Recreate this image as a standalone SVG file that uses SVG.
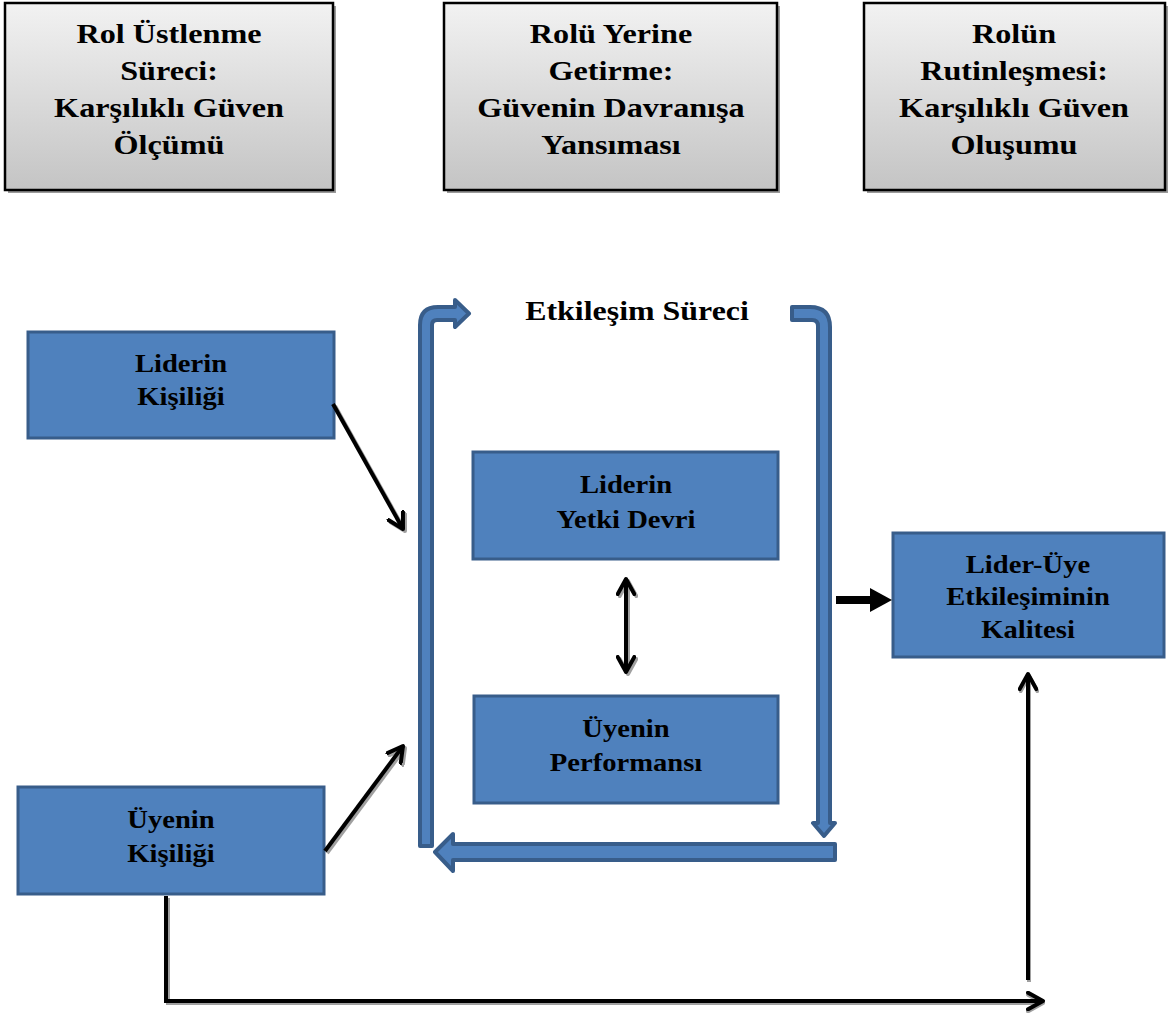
<svg xmlns="http://www.w3.org/2000/svg" width="1172" height="1019" viewBox="0 0 1172 1019">
<defs>
<linearGradient id="gray" x1="0" y1="0" x2="0" y2="1">
<stop offset="0" stop-color="#f2f2f2"/>
<stop offset="1" stop-color="#c4c4c4"/>
</linearGradient>
<marker id="open" viewBox="0 0 12 12" refX="10" refY="6" markerWidth="5" markerHeight="5" orient="auto-start-reverse" markerUnits="strokeWidth">
<path d="M1,1 L10,6 L1,11" fill="none" stroke="#000" stroke-width="2.4" stroke-linecap="round" stroke-linejoin="round"/>
</marker>
<marker id="openS" viewBox="0 0 12 12" refX="10" refY="6" markerWidth="5" markerHeight="5" orient="auto-start-reverse" markerUnits="strokeWidth">
<path d="M1,1 L10,6 L1,11" fill="none" stroke="#a0a0a0" stroke-width="2.4" stroke-linecap="round" stroke-linejoin="round"/>
</marker>
</defs>
<style>
.top{fill:url(#gray);stroke:#000;stroke-width:2.5}
.shadow{fill:#9a9a9a}
.blue{fill:#4f81bd;stroke:#385d8a;stroke-width:3}
.big{fill:#4f81bd;stroke:#385d8a;stroke-width:4;stroke-linejoin:round}
.t{font-family:"Liberation Serif","Times New Roman",serif;font-weight:bold;fill:#000;text-anchor:middle}
.tt{font-size:28px}
.tb{font-size:26px}
.ln{fill:none;stroke:#000;stroke-width:4}
.lns{fill:none;stroke:#a0a0a0;stroke-width:4}
</style>

<g id="top1">
<rect class="shadow" x="8" y="6" width="328" height="187"/>
<rect class="top" x="5" y="3" width="328" height="187"/>
<text class="t tt" transform="translate(169,43) scale(1.15,1)">Rol Üstlenme</text>
<text class="t tt" transform="translate(169,80) scale(1.15,1)">Süreci:</text>
<text class="t tt" transform="translate(169,117) scale(1.15,1)">Karşılıklı Güven</text>
<text class="t tt" transform="translate(169,154) scale(1.15,1)">Ölçümü</text>
</g>
<g id="top2">
<rect class="shadow" x="447" y="6" width="333" height="187"/>
<rect class="top" x="444" y="3" width="333" height="187"/>
<text class="t tt" transform="translate(611,43) scale(1.15,1)">Rolü Yerine</text>
<text class="t tt" transform="translate(611,80) scale(1.15,1)">Getirme:</text>
<text class="t tt" transform="translate(611,117) scale(1.15,1)">Güvenin Davranışa</text>
<text class="t tt" transform="translate(611,154) scale(1.15,1)">Yansıması</text>
</g>
<g id="top3">
<rect class="shadow" x="867" y="6" width="301" height="187"/>
<rect class="top" x="864" y="3" width="301" height="187"/>
<text class="t tt" transform="translate(1014,43) scale(1.15,1)">Rolün</text>
<text class="t tt" transform="translate(1014,80) scale(1.15,1)">Rutinleşmesi:</text>
<text class="t tt" transform="translate(1014,117) scale(1.15,1)">Karşılıklı Güven</text>
<text class="t tt" transform="translate(1014,154) scale(1.15,1)">Oluşumu</text>
</g>

<g id="process">
<path class="big" d="M420,846 L420,325 Q420,307 438,307 L455,307 L455,300 L469,313.5 L455,327 L455,320 L437,320 Q432,320 432,325 L432,846 Z"/>
<path class="big" d="M792,307 L810,307 Q830,307 830,327 L830,823 L835,823 L824,836 L813,823 L818,823 L818,326 Q818,320 812,320 L792,320 Z"/>
<path class="big" d="M835,844 L835,860 L453,860 L453,871 L435,852 L453,834 L453,844 Z"/>
<text class="t" font-size="28" transform="translate(637,320) scale(1.14,1)">Etkileşim Süreci</text>
</g>

<g id="liderin-kisiligi">
<rect class="blue" x="28" y="332" width="306" height="106"/>
<text class="t tb" transform="translate(181,372) scale(1.1,1)">Liderin</text>
<text class="t tb" transform="translate(181,405) scale(1.1,1)">Kişiliği</text>
</g>
<g id="yetki-devri">
<rect class="blue" x="473" y="452" width="305" height="107"/>
<text class="t tb" transform="translate(626,493) scale(1.1,1)">Liderin</text>
<text class="t tb" transform="translate(626,528) scale(1.1,1)">Yetki Devri</text>
</g>
<g id="performans">
<rect class="blue" x="474" y="696" width="304" height="107"/>
<text class="t tb" transform="translate(626,737) scale(1.1,1)">Üyenin</text>
<text class="t tb" transform="translate(626,771) scale(1.1,1)">Performansı</text>
</g>
<g id="lmx-kalite">
<rect class="blue" x="893" y="533" width="271" height="124"/>
<text class="t tb" transform="translate(1028,573) scale(1.1,1)">Lider-Üye</text>
<text class="t tb" transform="translate(1028,605) scale(1.1,1)">Etkileşiminin</text>
<text class="t tb" transform="translate(1028,638) scale(1.1,1)">Kalitesi</text>
</g>
<g id="uyenin-kisiligi">
<rect class="blue" x="18" y="787" width="306" height="107"/>
<text class="t tb" transform="translate(171,828) scale(1.1,1)">Üyenin</text>
<text class="t tb" transform="translate(171,862) scale(1.1,1)">Kişiliği</text>
</g>

<g id="connectors">
<line class="lns" x1="335" y1="406" x2="405" y2="531" marker-end="url(#openS)"/>
<line class="ln" x1="333" y1="404" x2="403" y2="529" marker-end="url(#open)"/>
<line class="lns" x1="327" y1="853" x2="405" y2="748" marker-end="url(#openS)"/>
<line class="ln" x1="325" y1="851" x2="403" y2="746" marker-end="url(#open)"/>
<line class="lns" x1="628" y1="581" x2="628" y2="674" marker-start="url(#openS)" marker-end="url(#openS)"/>
<line class="ln" x1="626" y1="579" x2="626" y2="672" marker-start="url(#open)" marker-end="url(#open)"/>
<line x1="836" y1="600" x2="872" y2="600" stroke="#000" stroke-width="8"/>
<path d="M870,588 L892,600 L870,612 Z" fill="#000"/>
<path class="lns" d="M168,898 L168,1003 L1043,1003" marker-end="url(#openS)"/>
<path class="ln" d="M166,896 L166,1001 L1043,1001" marker-end="url(#open)"/>
<line class="lns" x1="1029" y1="982" x2="1029" y2="676" marker-end="url(#openS)"/>
<line class="ln" x1="1028" y1="980" x2="1028" y2="674" marker-end="url(#open)"/>
</g>
</svg>
